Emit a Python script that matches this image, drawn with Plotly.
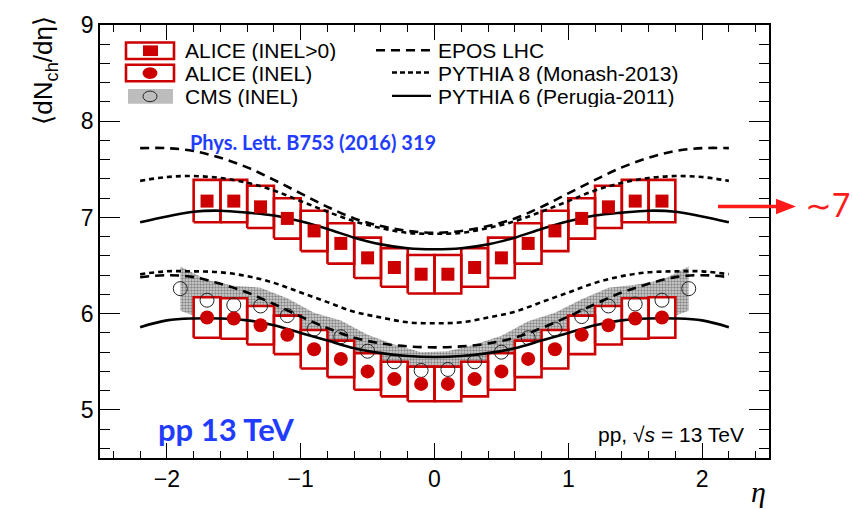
import plotly.graph_objects as go

# ---------------- data ----------------
eta_alice = [-1.7, -1.5, -1.3, -1.1, -0.9, -0.7, -0.5, -0.3, -0.1,
             0.1, 0.3, 0.5, 0.7, 0.9, 1.1, 1.3, 1.5, 1.7]
alice_inel0 = [7.17, 7.17, 7.11, 6.99, 6.86, 6.73, 6.58, 6.48, 6.41,
               6.41, 6.48, 6.58, 6.73, 6.86, 6.99, 7.11, 7.17, 7.17]
alice_inel0_sys = [0.22, 0.22, 0.22, 0.21, 0.21, 0.21, 0.21, 0.20, 0.20,
                   0.20, 0.20, 0.21, 0.21, 0.21, 0.21, 0.22, 0.22, 0.22]
alice_inel = [5.96, 5.95, 5.88, 5.78, 5.63, 5.53, 5.40, 5.32, 5.27,
              5.27, 5.32, 5.40, 5.53, 5.63, 5.78, 5.88, 5.95, 5.96]
alice_inel_sys = [0.21, 0.21, 0.20, 0.20, 0.20, 0.19, 0.19, 0.18, 0.18,
                  0.18, 0.18, 0.19, 0.19, 0.20, 0.20, 0.20, 0.21, 0.21]
bin_half_width = 0.1

eta_cms = [-1.9, -1.7, -1.5, -1.3, -1.1, -0.9, -0.7, -0.5, -0.3, -0.1,
           0.1, 0.3, 0.5, 0.7, 0.9, 1.1, 1.3, 1.5, 1.7, 1.9]
cms_inel = [6.26, 6.14, 6.09, 6.08, 5.98, 5.84, 5.76, 5.61, 5.50, 5.41,
            5.42, 5.50, 5.60, 5.75, 5.84, 5.97, 6.08, 6.10, 6.14, 6.26]
cms_sys = [0.23, 0.21, 0.20, 0.19, 0.18, 0.17, 0.17, 0.17, 0.18, 0.19,
           0.19, 0.18, 0.17, 0.17, 0.17, 0.18, 0.19, 0.20, 0.21, 0.23]

eta_model = [-2.2, -2.0, -1.8, -1.6, -1.4, -1.2, -1.0, -0.8, -0.6, -0.4, -0.2, 0.0,
             0.2, 0.4, 0.6, 0.8, 1.0, 1.2, 1.4, 1.6, 1.8, 2.0, 2.2]
epos_inel0 = [7.72, 7.72, 7.69, 7.62, 7.52, 7.39, 7.25, 7.11, 6.99, 6.91, 6.86, 6.84,
              6.86, 6.91, 6.99, 7.11, 7.25, 7.39, 7.52, 7.62, 7.69, 7.72, 7.72]
pythia8_inel0 = [7.38, 7.42, 7.43, 7.41, 7.36, 7.28, 7.17, 7.06, 6.96, 6.89, 6.84, 6.83,
                 6.84, 6.89, 6.96, 7.06, 7.17, 7.28, 7.36, 7.41, 7.43, 7.42, 7.38]
pythia6_inel0 = [6.95, 7.01, 7.06, 7.07, 7.05, 7.02, 6.96, 6.88, 6.79, 6.72, 6.68, 6.67,
                 6.68, 6.72, 6.79, 6.88, 6.96, 7.02, 7.05, 7.07, 7.06, 7.01, 6.95]
epos_inel = [6.38, 6.40, 6.38, 6.31, 6.22, 6.10, 5.97, 5.85, 5.75, 5.69, 5.66, 5.65,
             5.66, 5.69, 5.75, 5.85, 5.97, 6.10, 6.22, 6.31, 6.38, 6.40, 6.38]
pythia8_inel = [6.41, 6.44, 6.44, 6.43, 6.39, 6.32, 6.22, 6.12, 6.02, 5.96, 5.91, 5.90,
                5.91, 5.96, 6.02, 6.12, 6.22, 6.32, 6.39, 6.43, 6.44, 6.44, 6.41]
pythia6_inel = [5.86, 5.93, 5.95, 5.95, 5.93, 5.88, 5.80, 5.72, 5.64, 5.59, 5.56, 5.55,
                5.56, 5.59, 5.64, 5.72, 5.80, 5.88, 5.93, 5.95, 5.95, 5.93, 5.86]

x_ticks = [-2, -1, 0, 1, 2]
y_ticks = [5, 6, 7, 8, 9]

# ---------------- styles ----------------
RED = "#cc0000"
ARROW_RED = "#ff1a1a"
BLUE = "#1f3cff"
W, H = 853, 509
L, R, T, B = 100, 84, 12, 51
PW, PH = W - L - R, H - T - B
FONT = "Liberation Sans, Arial, Helvetica, sans-serif"


def px(x):
    return (x - L) / PW


def py(y):
    return (H - B - y) / PH


def box_polygons(xc, yc, sys):
    xs, ys = [], []
    for e, v, s in zip(xc, yc, sys):
        xs += [e - bin_half_width, e + bin_half_width, e + bin_half_width,
               e - bin_half_width, e - bin_half_width, None]
        ys += [v - s, v - s, v + s, v + s, v - s, None]
    return xs, ys


fig = go.Figure()

# CMS systematic band (stippled)
band_x = eta_cms + eta_cms[::-1]
band_y = [v + s for v, s in zip(cms_inel, cms_sys)] + \
         [v - s for v, s in zip(cms_inel, cms_sys)][::-1]
fig.add_trace(go.Scatter(
    x=band_x, y=band_y, fill="toself", mode="lines",
    line=dict(width=0, color="rgba(0,0,0,0)"),
    fillcolor="#cfcfcf",
    fillpattern=dict(shape=".", fgcolor="#3a3a3a", bgcolor="#d4d4d4",
                     size=3, solidity=0.5),
    showlegend=False, hoverinfo="skip"))

# ALICE systematic boxes
for yc, sys in [(alice_inel0, alice_inel0_sys), (alice_inel, alice_inel_sys)]:
    bx, by = box_polygons(eta_alice, yc, sys)
    fig.add_trace(go.Scatter(
        x=bx, y=by, fill="toself", fillcolor="white", mode="lines",
        line=dict(color=RED, width=2.6), showlegend=False, hoverinfo="skip"))

# CMS points
fig.add_trace(go.Scatter(
    x=eta_cms, y=cms_inel, mode="markers",
    marker=dict(symbol="circle-open", size=14, color="#222222",
                line=dict(width=1)),
    showlegend=False))

# model curves
for yv in (epos_inel0, epos_inel):
    fig.add_trace(go.Scatter(x=eta_model, y=yv, mode="lines",
                             line=dict(color="black", width=2.6, dash="9px,6px",
                                       shape="spline"), showlegend=False))
for yv in (pythia8_inel0, pythia8_inel):
    fig.add_trace(go.Scatter(x=eta_model, y=yv, mode="lines",
                             line=dict(color="black", width=2.6, dash="5px,4px",
                                       shape="spline"), showlegend=False))
for yv in (pythia6_inel0, pythia6_inel):
    fig.add_trace(go.Scatter(x=eta_model, y=yv, mode="lines",
                             line=dict(color="black", width=2.6,
                                       shape="spline"), showlegend=False))

# ALICE markers
fig.add_trace(go.Scatter(x=eta_alice, y=alice_inel0, mode="markers",
                         marker=dict(symbol="square", size=13, color=RED),
                         showlegend=False))
fig.add_trace(go.Scatter(x=eta_alice, y=alice_inel, mode="markers",
                         marker=dict(symbol="circle", size=14, color=RED),
                         showlegend=False))

# ---------------- manual legend ----------------
shapes = []
ann = []
rows = [38, 61, 85]
# swatches col 1
shapes.append(dict(type="rect", xref="paper", yref="paper",
                   x0=px(126), x1=px(174), y0=py(47), y1=py(30),
                   line=dict(color=RED, width=2.6), fillcolor="white"))
shapes.append(dict(type="rect", xref="paper", yref="paper",
                   x0=px(143), x1=px(158), y0=py(44), y1=py(33),
                   line=dict(width=0), fillcolor=RED))
shapes.append(dict(type="rect", xref="paper", yref="paper",
                   x0=px(126), x1=px(174), y0=py(70), y1=py(53),
                   line=dict(color=RED, width=2.6), fillcolor="white"))
shapes.append(dict(type="circle", xref="paper", yref="paper",
                   x0=px(142.5), x1=px(157.5), y0=py(67.5), y1=py(55.5),
                   line=dict(width=0), fillcolor=RED))
shapes.append(dict(type="rect", xref="paper", yref="paper",
                   x0=px(128), x1=px(173), y0=py(93), y1=py(78),
                   line=dict(width=0), fillcolor="#bdbdbd"))
shapes.append(dict(type="circle", xref="paper", yref="paper",
                   x0=px(143), x1=px(157), y0=py(91), y1=py(80),
                   line=dict(width=1, color="#222222"), fillcolor="rgba(0,0,0,0)"))
# line samples col 2
shapes.append(dict(type="line", xref="paper", yref="paper",
                   x0=px(376), x1=px(431), y0=py(rows[0]), y1=py(rows[0]),
                   line=dict(color="black", width=2.4, dash="9px,6px")))
shapes.append(dict(type="line", xref="paper", yref="paper",
                   x0=px(392), x1=px(431), y0=py(rows[1]), y1=py(rows[1]),
                   line=dict(color="black", width=2.4, dash="5px,3px")))
shapes.append(dict(type="line", xref="paper", yref="paper",
                   x0=px(392), x1=px(431), y0=py(rows[2]), y1=py(rows[2]),
                   line=dict(color="black", width=2.4)))

# red arrow (shaft + head)
shapes.append(dict(type="line", xref="paper", yref="paper",
                   x0=px(718), x1=px(780), y0=py(199), y1=py(199),
                   line=dict(color=ARROW_RED, width=3.5)))
shapes.append(dict(type="path", xref="paper", yref="paper",
                   path="M {:.5f} {:.5f} L {:.5f} {:.5f} L {:.5f} {:.5f} Z".format(
                       px(776), py(191), px(796), py(199), px(776), py(207)),
                   line=dict(width=0), fillcolor=ARROW_RED))

leg_font = dict(family=FONT, size=21, color="black")
for txt, r in zip(["ALICE (INEL&gt;0)", "ALICE (INEL)", "CMS (INEL)"], rows):
    ann.append(dict(x=px(183), y=py(r), xref="paper", yref="paper",
                    text=txt, showarrow=False, xanchor="left", yanchor="middle",
                    height=22, font=leg_font))
for txt, r in zip(["EPOS LHC", "PYTHIA 8 (Monash-2013)",
                   "PYTHIA 6 (Perugia-2011)"], rows):
    ann.append(dict(x=px(436), y=py(r), xref="paper", yref="paper",
                    text=txt, showarrow=False, xanchor="left", yanchor="middle",
                    height=22, font=leg_font))

# other texts
ann.append(dict(x=px(313), y=py(133), xref="paper", yref="paper",
                text="<b>Phys. Lett. B753 (2016) 319</b>", showarrow=False,
                xanchor="center", yanchor="middle",
                font=dict(family="Lato, Open Sans, sans-serif", size=20, color=BLUE)))
ann.append(dict(x=px(156), y=py(428), xref="paper", yref="paper",
                text="<b>pp 13 TeV</b>", showarrow=False,
                xanchor="left", yanchor="middle",
                font=dict(family="Lato, Open Sans, sans-serif", size=31, color=BLUE)))
ann.append(dict(x=px(746), y=py(434), xref="paper", yref="paper",
                text="pp, √<i>s</i> = 13 TeV", showarrow=False,
                xanchor="right", yanchor="middle",
                font=dict(family=FONT, size=21, color="black")))
# axis titles
ann.append(dict(x=px(45), y=py(58), xref="paper", yref="paper",
                text="⟨dN<sub>ch</sub>/dη⟩", showarrow=False, textangle=-90,
                xanchor="center", yanchor="middle",
                font=dict(family=FONT, size=26, color="black")))
ann.append(dict(x=px(758), y=py(493), xref="paper", yref="paper",
                text="<i>η</i>", showarrow=False,
                xanchor="center", yanchor="middle",
                font=dict(family="Liberation Serif, serif", size=30, color="black")))
# ~7 label
ann.append(dict(x=px(852), y=py(197), xref="paper", yref="paper",
                text="∼7", showarrow=False, xanchor="right", yanchor="middle",
                font=dict(family="Lato, DejaVu Sans, sans-serif", size=32,
                          color=ARROW_RED)))

axis_common = dict(showline=True, linecolor="black", linewidth=1.6,
                   mirror="ticks", ticks="inside", tickcolor="black",
                   tickwidth=1.3, showgrid=False, zeroline=False,
                   tickfont=dict(family=FONT, size=23, color="black"))

fig.update_layout(
    width=W, height=H,
    margin=dict(l=L, r=R, t=T, b=B),
    paper_bgcolor="white", plot_bgcolor="white",
    showlegend=False,
    xaxis=dict(range=[-2.5, 2.5], tickvals=x_ticks, ticklen=15,
               minor=dict(dtick=0.2, tick0=0, ticklen=7, ticks="inside",
                          tickcolor="black", tickwidth=1.1, showgrid=False),
               **axis_common),
    yaxis=dict(range=[4.5, 9], tickvals=y_ticks, ticklen=20,
               minor=dict(dtick=0.2, tick0=0, ticklen=10, ticks="inside",
                          tickcolor="black", tickwidth=1.1, showgrid=False),
               **axis_common),
    shapes=shapes,
    annotations=ann,
)

fig.write_html("out.html")
